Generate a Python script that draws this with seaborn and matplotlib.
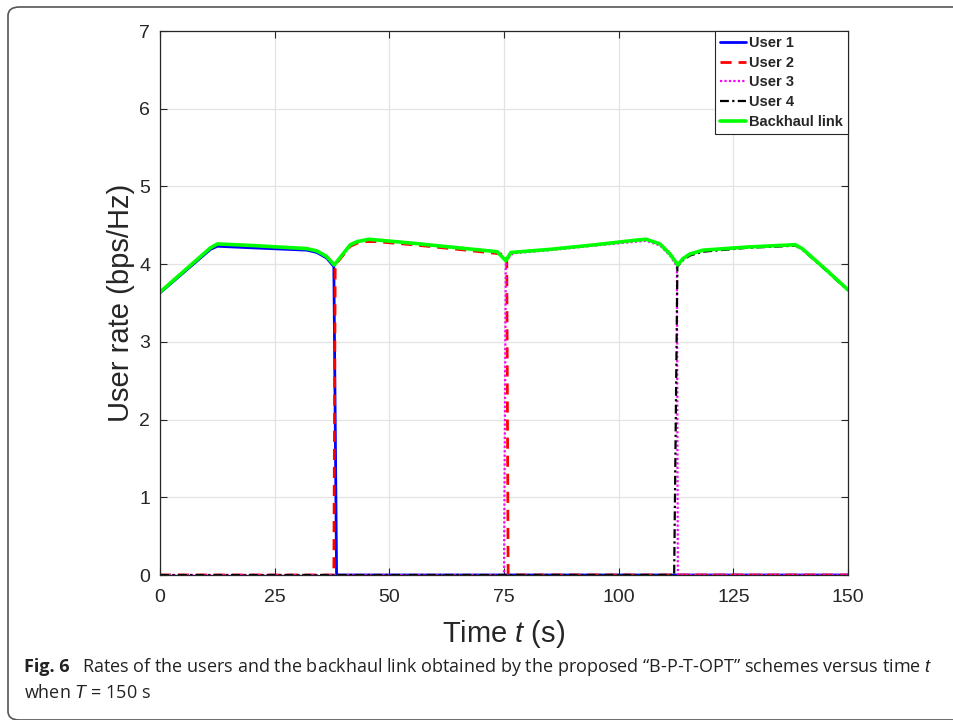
import matplotlib
matplotlib.use("Agg")
import matplotlib.pyplot as plt
import seaborn as sns
from matplotlib.patches import FancyBboxPatch

# ---------------- data ----------------
t_user1 = [0, 11, 12.5, 20, 32, 34.2, 36.3, 37.9, 38.5, 150]
r_user1 = [3.63, 4.19, 4.23, 4.21, 4.18, 4.15, 4.08, 3.97, 0.0, 0.0]

t_user2 = [0, 37.9, 38.2, 40, 41.5, 43, 45, 47, 55, 65, 73, 75.6, 75.9, 150]
r_user2 = [0, 0, 3.99, 4.12, 4.23, 4.27, 4.29, 4.29, 4.25, 4.19, 4.14, 4.12, 0, 0]

t_user3 = [0, 75.0, 75.4, 77, 85, 95, 104, 106, 109, 111.2, 112.7, 112.9, 150]
r_user3 = [0, 0, 4.05, 4.14, 4.18, 4.24, 4.29, 4.30, 4.24, 4.11, 3.97, 0, 0]

t_user4 = [0, 112.1, 112.8, 114, 115.5, 118.4, 128, 136, 138.5, 140, 145, 150]
r_user4 = [0, 0, 3.97, 4.05, 4.11, 4.16, 4.21, 4.23, 4.24, 4.19, 3.93, 3.66]

t_backhaul = [0, 11, 12.5, 20, 32, 34.2, 36.3, 38.0, 40, 41.5, 43, 45.5, 55, 65,
              73.5, 75.4, 76.5, 85, 95, 104, 106, 109, 111.2, 112.9, 114, 115.5,
              118.4, 128, 138.5, 140, 145, 150]
r_backhaul = [3.64, 4.21, 4.26, 4.24, 4.20, 4.17, 4.10, 3.99, 4.14, 4.25, 4.29, 4.32,
              4.27, 4.21, 4.16, 4.045, 4.15, 4.19, 4.25, 4.31, 4.32, 4.26, 4.13, 3.99,
              4.07, 4.13, 4.18, 4.22, 4.25, 4.20, 3.94, 3.67]

labels = ["User 1", "User 2", "User 3", "User 4", "Backhaul link"]
x_ticks = [0, 25, 50, 75, 100, 125, 150]
y_ticks = [0, 1, 2, 3, 4, 5, 6, 7]

# ---------------- style ----------------
sns.set_style("whitegrid")
plt.rcParams["font.family"] = ["Liberation Sans", "DejaVu Sans"]
plt.rcParams["mathtext.fontset"] = "custom"
plt.rcParams["mathtext.it"] = "Liberation Sans:italic"

fig = plt.figure(figsize=(9.54, 7.2), dpi=100)
ax = fig.add_axes([160 / 954, 1 - 575 / 720, (848 - 160) / 954, (575 - 31) / 720])

series = [
    (t_user1, r_user1, dict(color="#0000ff", linestyle="-", lw=2.0)),
    (t_user2, r_user2, dict(color="#ff0000", linestyle=(0, (4, 2.5)), lw=2.0)),
    (t_user3, r_user3, dict(color="#ff00ff", linestyle=(0, (1, 1)), lw=1.6)),
    (t_user4, r_user4, dict(color="#000000", linestyle=(0, (4, 1.5, 1, 1.5)), lw=1.6)),
    (t_backhaul, r_backhaul, dict(color="#00ff00", linestyle="-", lw=2.6)),
]
for (tx, ry, kw), lab in zip(series, labels):
    sns.lineplot(x=tx, y=ry, ax=ax, label=lab, sort=False, estimator=None, **kw)

ax.set_xlim(0, 150)
ax.set_ylim(0, 7)
ax.set_xticks(x_ticks)
ax.set_yticks(y_ticks)
ax.grid(True, color="#e3e3e3", lw=0.9)
ax.tick_params(direction="in", length=5, width=0.8, colors="#262626",
               labelsize=14, labelcolor="#262626", top=True, right=True,
               left=True, bottom=True)
ax.tick_params(axis="x", pad=10)
ax.tick_params(axis="y", pad=7)
for s in ax.spines.values():
    s.set_color("#262626")
    s.set_linewidth(0.9)

ax.set_xlabel("Time $t$ (s)", fontsize=21, color="#262626", labelpad=9)
ax.set_ylabel("User rate (bps/Hz)", fontsize=21, color="#262626", labelpad=3)

leg = ax.legend(loc="upper right", borderaxespad=0, fancybox=False, framealpha=1,
                edgecolor="#262626", prop=dict(weight="bold", size=10.5),
                handlelength=1.8, handletextpad=0.2, labelspacing=0.4,
                borderpad=0.33)
leg.get_frame().set_linewidth(0.8)

# ---------------- frame and caption ----------------
frame = FancyBboxPatch((8 / 954, 0.0 / 720), 1.2, (713 - 0) / 720,
                       boxstyle="round,pad=0,rounding_size=0.012",
                       transform=fig.transFigure, fill=False,
                       edgecolor="#555555", lw=1.2, clip_on=False)
fig.add_artist(frame)

cap_font = ["Open Sans", "DejaVu Sans"]
fig.text(24 / 954, 1 - 672 / 720, "Fig. 6", fontsize=13, fontweight="bold",
         family=cap_font, color="#222222")
fig.text(82 / 954, 1 - 672 / 720,
         "Rates of the users and the backhaul link obtained by the proposed \u201cB-P-T-OPT\u201d schemes versus time $t$",
         fontsize=13, family=cap_font, color="#222222")
fig.text(24 / 954, 1 - 698 / 720, "when $T$ = 150 s", fontsize=13,
         family=cap_font, color="#222222")

fig.savefig("out.png", dpi=100)
